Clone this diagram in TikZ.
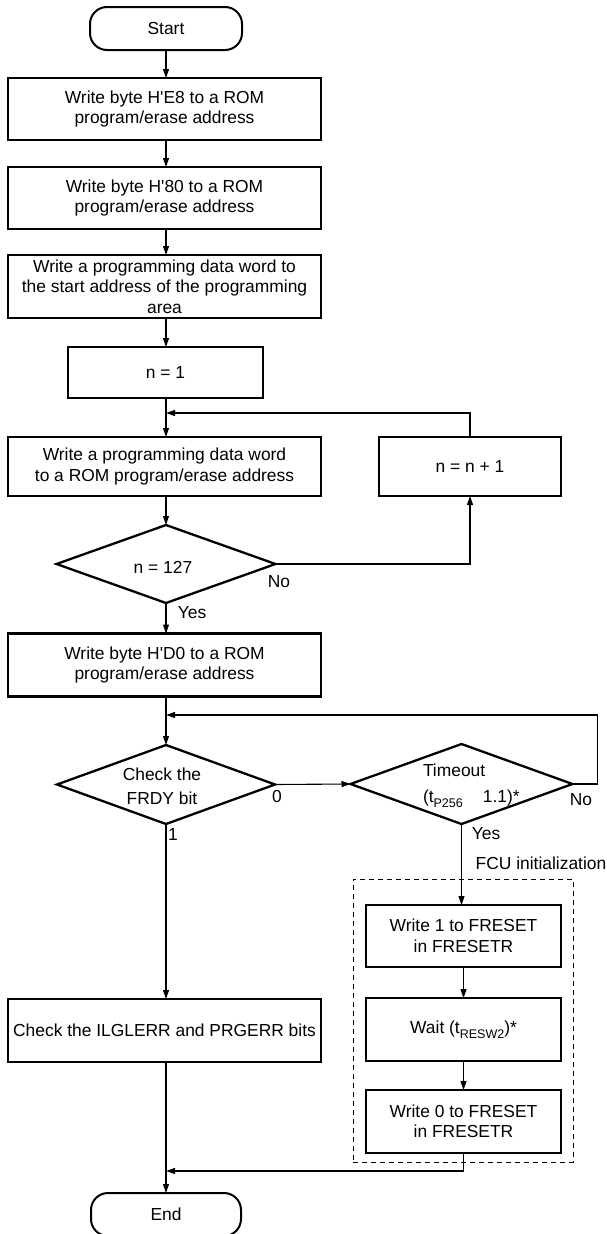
\documentclass[tikz,border=0pt]{standalone}
\usepackage{fontspec}
\setmainfont{Liberation Sans}
\usetikzlibrary{shapes.geometric,arrows.meta}
\newcommand{\sbs}[1]{\raisebox{-4.5pt}{\fontsize{12.5}{12.5}\selectfont #1}}
\newcommand{\sq}{\textquotesingle}
\begin{document}
\begin{tikzpicture}[x=1pt,y=-1pt,
  every node/.style={inner sep=0pt,outer sep=0pt},
  txt/.style={font=\fontsize{17.4}{20.5}\selectfont},
  lbl/.style={font=\fontsize{17.4}{20.5}\selectfont},
  procbox/.style={draw,line width=2.3pt,rectangle,align=center,txt},
  term/.style={draw,line width=2pt,rectangle,rounded corners=17pt,align=center,txt},
  decis/.style={draw,line width=2.3pt,diamond,aspect=2.78},
  conn/.style={line width=1.1pt,-{Triangle[length=9pt,width=6pt]}},
  plain/.style={line width=1.1pt},
  dashbox/.style={draw,line width=1pt,dash pattern=on 5pt off 4pt,rectangle}]
\useasboundingbox (0,0) rectangle (607,1234);

% terminals and boxes
\node[term,minimum width=152pt,minimum height=43pt] (start) at (166,28.5) {Start};
\node[procbox,minimum width=313pt,minimum height=62pt] (b1) at (164.5,109) {Write byte H\sq E8 to a ROM\\program/erase address};
\node[procbox,minimum width=313pt,minimum height=62pt] (b2) at (164.5,198) {Write byte H\sq 80 to a ROM\\program/erase address};
\node[procbox,minimum width=313pt,minimum height=63pt] (b3) at (164.5,286.5) {Write a programming data word to\\the start address of the programming\\area};
\node[procbox,minimum width=195pt,minimum height=51pt] (n1) at (165.5,372.5) {n = 1};
\node[procbox,minimum width=313pt,minimum height=59pt] (wr) at (164.5,466.5) {Write a programming data word\\to a ROM program/erase address};
\node[procbox,minimum width=182pt,minimum height=59pt] (inc) at (470,466.5) {n = n + 1};
\node[decis,minimum width=219pt,minimum height=78pt] (d127) at (166,564) {};
\node[txt] (d127t) at (163,567) {n = 127};
\node[procbox,minimum width=313pt,minimum height=63pt] (bd0) at (164.5,665) {Write byte H\sq D0 to a ROM\\program/erase address};
\node[decis,minimum width=218pt,minimum height=79pt] (frdy) at (166,784.5) {};
\node[font=\fontsize{17.4}{24}\selectfont,align=center] (frdyt) at (162,786) {Check the\\FRDY bit};
\node[decis,minimum width=222pt,minimum height=80pt] (tout) at (461.5,784) {};
\node[font=\fontsize{17.4}{26.5}\selectfont,align=left,anchor=west] (toutt) at (423,785.5) {Timeout\\(t\sbs{P256}\hspace{20pt}1.1)*};

% FCU initialization group
\node[dashbox,minimum width=220pt,minimum height=283pt] (fcu) at (463,1020.5) {};
\node[lbl] (fcut) at (541,863) {FCU initialization};
\node[procbox,minimum width=195pt,minimum height=62pt] (w1) at (463.5,936) {Write 1 to FRESET\\in FRESETR};
\node[procbox,minimum width=195pt,minimum height=63pt] (wt) at (463.5,1029.5) {Wait (t\sbs{RESW2})*};
\node[procbox,minimum width=195pt,minimum height=63pt] (w0) at (463.5,1121.5) {Write 0 to FRESET\\in FRESETR};

\node[procbox,minimum width=313pt,minimum height=63pt] (chk) at (164.5,1030.5) {Check the ILGLERR and PRGERR bits};
\node[term,minimum width=150pt,minimum height=43pt] (stop) at (166,1214.5) {End};

% labels
\node[lbl] (lno1) at (279,582) {No};
\node[lbl] (lyes1) at (192,613) {Yes};
\node[lbl] (lzero) at (277,797) {0};
\node[lbl] (lone) at (173,835) {1};
\node[lbl] (lno2) at (581,800) {No};
\node[lbl] (lyes2) at (486,834) {Yes};

% junction coordinates
\coordinate (j1) at (166,413);
\coordinate (j2) at (166,715);
\coordinate (j3) at (166,1171);

% connectors
\draw[conn] (start.south) -- (b1.north -| start.south);
\draw[conn] (b1.south -| start.south) -- (b2.north -| start.south);
\draw[conn] (b2.south -| start.south) -- (b3.north -| start.south);
\draw[conn] (b3.south -| start.south) -- (n1.north -| start.south);
\draw[conn] (n1.south -| start.south) -- (wr.north -| start.south);
\draw[conn] (inc.north) |- (j1);
\draw[conn] (wr.south -| start.south) -- (d127.north);
\draw[conn] (d127.east) -| (inc.south);
\draw[conn] (d127.south) -- (bd0.north -| d127.south);
\draw[conn] (bd0.south -| d127.south) -- (frdy.north);
\draw[conn] (frdy.east) -- (tout.west);
\draw[conn] (tout.east) -- ++(25,0) |- (j2);
\draw[conn] (tout.south) -- (w1.north -| tout.south);
\draw[conn] (w1.south) -- (wt.north);
\draw[conn] (wt.south) -- (w0.north);
\draw[plain] (w0.south) -- ++(0,18) coordinate (j4);
\draw[conn] (j4) -- (j3);
\draw[conn] (frdy.south) -- (chk.north -| frdy.south);
\draw[conn] (chk.south -| frdy.south) -- (stop.north);
\end{tikzpicture}
\end{document}
